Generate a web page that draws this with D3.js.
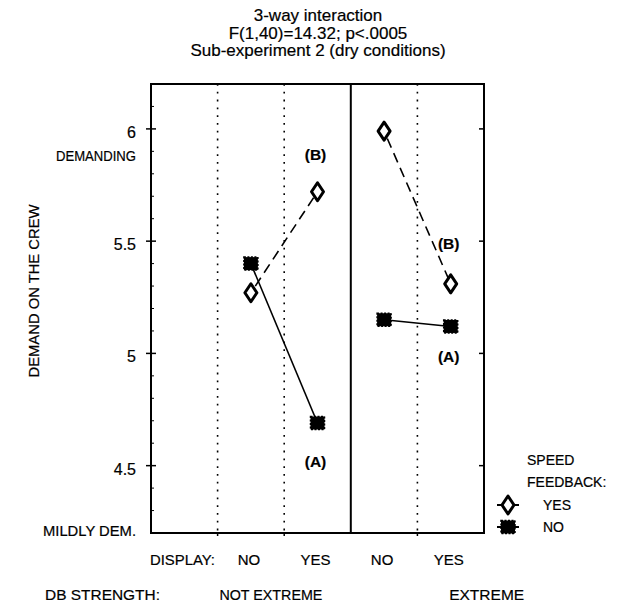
<!DOCTYPE html>
<html><head><meta charset="utf-8">
<script src="https://cdn.jsdelivr.net/npm/d3@7"></script>
<style>
body{margin:0;background:#fff;}
svg{display:block;font-family:"Liberation Sans",Arial,sans-serif;}
svg text{stroke:#000;stroke-width:0.2px;}
</style></head>
<body><svg id="c" width="623" height="609"></svg>
<script>
// ---- data ----
const titleLines = ["3-way interaction", "F(1,40)=14.32; p<.0005", "Sub-experiment 2 (dry conditions)"];
const dbStrength = ["NOT EXTREME", "NOT EXTREME", "EXTREME", "EXTREME"];
const display = ["NO", "YES", "NO", "YES"];
const feedbackYes = [5.27, 5.72, 5.99, 5.31];   // diamonds, dashed
const feedbackNo  = [5.40, 4.69, 5.15, 5.12];   // filled squares, solid
const yTicks = [4.5, 5, 5.5, 6];
const yTickLabels = ["4.5", "5", "5.5", "6"];
const anchorLabels = ["DEMANDING", "MILDLY DEM."];
const anchorValues = [5.87, 4.2];
const pointLabels = ["(B)", "(A)", "(B)", "(A)"];
const pointLabelCat = [1, 1, 3, 3];
const pointLabelVal = [5.89, 4.52, 5.49, 4.99];
const legendTitle = ["SPEED", "FEEDBACK:"];
const legendItems = ["YES", "NO"];

// ---- layout ----
const svg = d3.select("#c");
const L = 151, R = 484, T = 84, B = 533;
const x = d3.scaleLinear().domain([0, 5]).range([L, R]);
const y = d3.scaleLinear().domain([4.2, 6.2]).range([B, T]);
const xc = i => x(i + 1.5);

// title
svg.append("g").selectAll("text").data(titleLines).join("text")
  .attr("x", 318).attr("y", (d, i) => 21 + i * 17.5)
  .attr("text-anchor", "middle").attr("font-size", 17)
  .text(d => d);

// dotted separators
svg.append("g").selectAll("line").data([1, 2, 4]).join("line")
  .attr("x1", d => x(d)).attr("x2", d => x(d)).attr("y1", T).attr("y2", B)
  .attr("stroke", "#000").attr("stroke-width", 1.6).attr("stroke-dasharray", "1.8,6");
// solid divider
svg.append("line").attr("x1", x(3)).attr("x2", x(3)).attr("y1", T).attr("y2", B)
  .attr("stroke", "#000").attr("stroke-width", 2);

// frame
svg.append("rect").attr("x", L).attr("y", T).attr("width", R - L).attr("height", B - T)
  .attr("fill", "none").attr("stroke", "#000").attr("stroke-width", 2);

// left axis ticks
const minor = d3.range(43, 62).map(v => v / 10).filter(v => !yTicks.includes(v));
svg.append("g").selectAll("line").data(minor).join("line")
  .attr("x1", L).attr("x2", L + 3).attr("y1", d => y(d)).attr("y2", d => y(d))
  .attr("stroke", "#000").attr("stroke-width", 1);
svg.append("g").selectAll("line").data(yTicks).join("line")
  .attr("x1", L - 5).attr("x2", L + 5).attr("y1", d => y(d)).attr("y2", d => y(d))
  .attr("stroke", "#000").attr("stroke-width", 1.5);
svg.append("g").selectAll("line").data(yTicks).join("line")
  .attr("x1", R - 5).attr("x2", R).attr("y1", d => y(d)).attr("y2", d => y(d))
  .attr("stroke", "#000").attr("stroke-width", 1.5);
// bottom small ticks
svg.append("g").selectAll("line").data([1, 2, 4]).join("line")
  .attr("x1", d => x(d)).attr("x2", d => x(d)).attr("y1", B).attr("y2", B + 3)
  .attr("stroke", "#000").attr("stroke-width", 1.5);

// y tick labels
svg.append("g").selectAll("text").data(yTicks).join("text")
  .attr("x", 136).attr("y", d => y(d) + 9).attr("text-anchor", "end")
  .attr("font-size", 16).text((d, i) => yTickLabels[i]);
const anchorW = [80, 93];
svg.append("g").selectAll("text").data(anchorLabels).join("text")
  .attr("x", 136).attr("y", (d, i) => y(anchorValues[i]) + 3).attr("text-anchor", "end")
  .attr("font-size", 14.5).attr("textLength", (d, i) => anchorW[i])
  .attr("lengthAdjust", "spacingAndGlyphs").text(d => d);

// y axis title
svg.append("text").attr("transform", "translate(39,291) rotate(-90)")
  .attr("text-anchor", "middle").attr("font-size", 14.5)
  .attr("textLength", 173).attr("lengthAdjust", "spacingAndGlyphs").text("DEMAND ON THE CREW");

// x labels
svg.append("text").attr("x", 150).attr("y", 565).attr("font-size", 15)
  .attr("textLength", 65).attr("lengthAdjust", "spacingAndGlyphs").text("DISPLAY:");
svg.append("g").selectAll("text").data(display).join("text")
  .attr("x", (d, i) => xc(i) - 2).attr("y", 565).attr("text-anchor", "middle")
  .attr("font-size", 15).text(d => d);
svg.append("text").attr("x", 45).attr("y", 600).attr("font-size", 15)
  .attr("textLength", 115).attr("lengthAdjust", "spacingAndGlyphs").text("DB STRENGTH:");
const groups = Array.from(new Set(dbStrength));
const groupPos = [1.8, 5.04];
const groupW = [103, 75];
svg.append("g").selectAll("text").data(groups).join("text")
  .attr("x", (d, i) => x(groupPos[i])).attr("y", 600).attr("text-anchor", "middle")
  .attr("font-size", 15).attr("textLength", (d, i) => groupW[i])
  .attr("lengthAdjust", "spacingAndGlyphs").text(d => d);

// series lines
const segs = (arr) => [[arr[0], arr[1]], [arr[2], arr[3]]];
segs(feedbackNo).forEach((s, k) => {
  svg.append("path").datum(s).attr("d", d3.line().x((d, i) => xc(i + 2 * k)).y(d => y(d)))
    .attr("fill", "none").attr("stroke", "#000").attr("stroke-width", 1.6);
});
segs(feedbackYes).forEach((s, k) => {
  svg.append("path").datum(s).attr("d", d3.line().x((d, i) => xc(i + 2 * k)).y(d => y(d)))
    .attr("fill", "none").attr("stroke", "#000").attr("stroke-width", 1.6)
    .attr("stroke-dasharray", "10,6").attr("stroke-dashoffset", -8);
});

// markers
function diamond(g, cx, cy) {
  g.append("path").attr("d", `M${cx},${cy - 9}L${cx + 6},${cy}L${cx},${cy + 9}L${cx - 6},${cy}Z`)
    .attr("fill", "#fff").attr("stroke", "#000").attr("stroke-width", 3).attr("stroke-linejoin", "round");
}
function square(g, cx, cy) {
  g.append("rect").attr("x", cx - 7).attr("y", cy - 6.5).attr("width", 14).attr("height", 13)
    .attr("fill", "#000").attr("stroke", "#000").attr("stroke-width", 1.5)
    .attr("stroke-dasharray", "2,1.5");
}
const mg = svg.append("g");
feedbackNo.forEach((v, i) => square(mg, xc(i), y(v)));
feedbackYes.forEach((v, i) => diamond(mg, xc(i), y(v)));

// point labels
svg.append("g").selectAll("text").data(pointLabels).join("text")
  .attr("x", (d, i) => xc(pointLabelCat[i]) - 2).attr("y", (d, i) => y(pointLabelVal[i]) + 6)
  .attr("text-anchor", "middle").attr("font-size", 15.5).attr("font-weight", "bold").text(d => d);

// legend
svg.append("g").selectAll("text").data(legendTitle).join("text")
  .attr("x", 527).attr("y", (d, i) => 465 + i * 22).attr("font-size", 14).text(d => d);
const lg = svg.append("g");
legendItems.forEach((t, i) => {
  const cy = 505 + i * 22;
  lg.append("line").attr("x1", 497).attr("x2", 519).attr("y1", cy).attr("y2", cy)
    .attr("stroke", "#000").attr("stroke-width", 2);
  if (i === 0) diamond(lg, 508, cy); else square(lg, 508, cy);
  lg.append("text").attr("x", 543).attr("y", cy + 5).attr("font-size", 14).text(t);
});
</script></body></html>
